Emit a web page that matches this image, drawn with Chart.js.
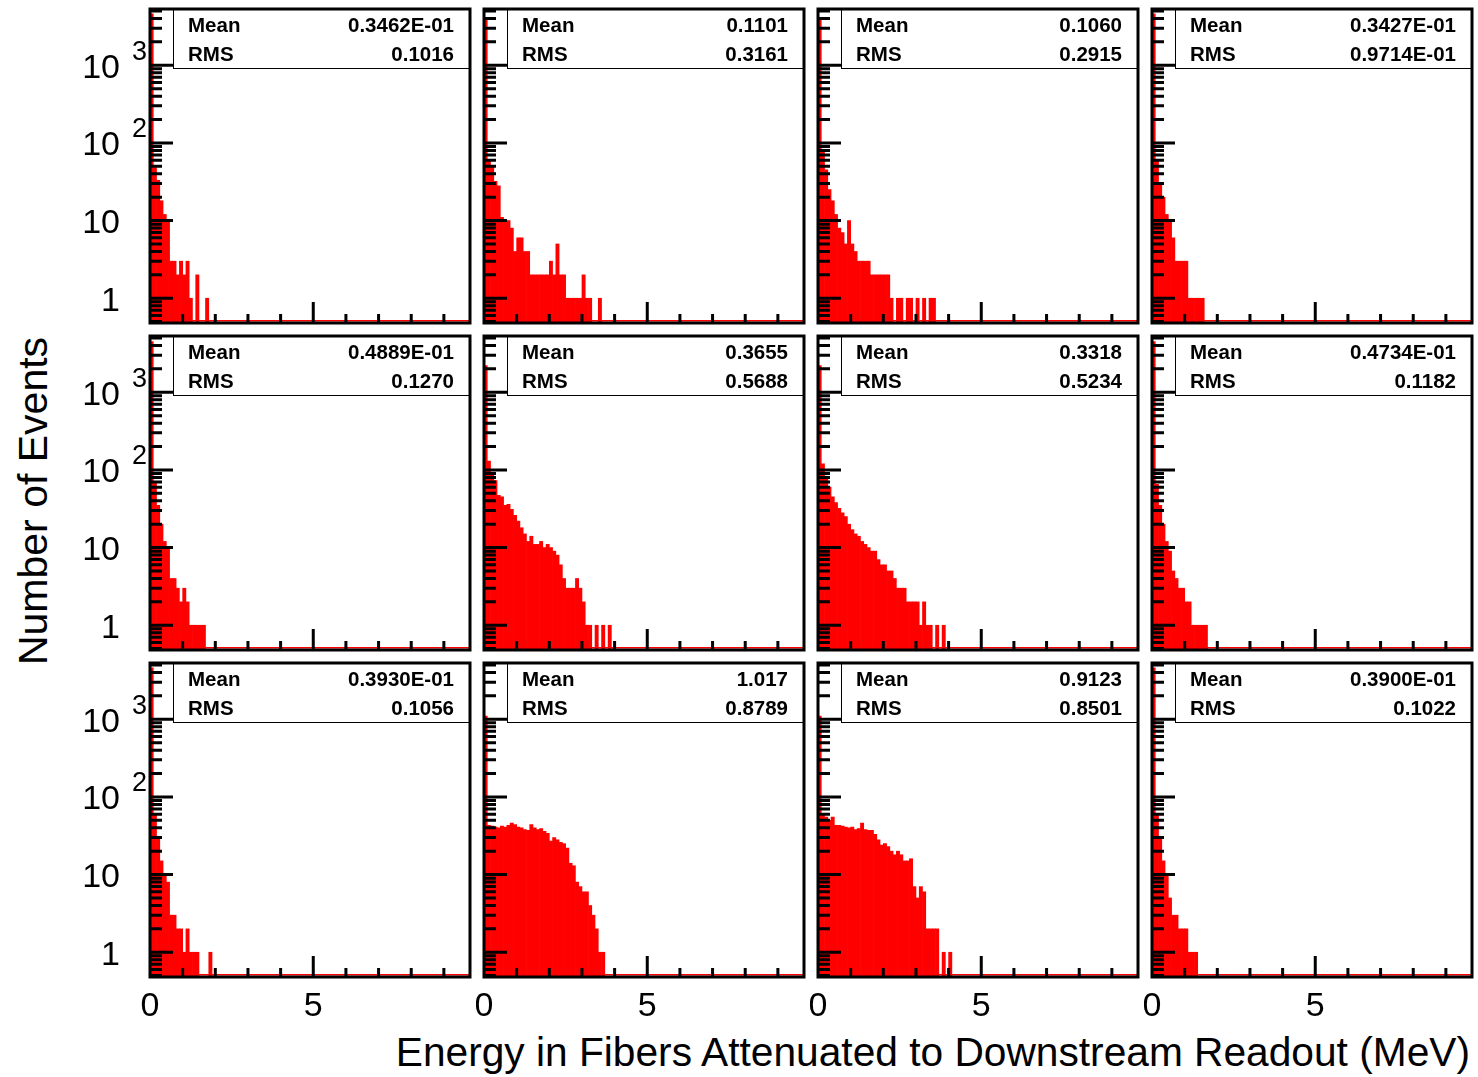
<!DOCTYPE html>
<html>
<head>
<meta charset="utf-8">
<title>Energy in fibers</title>
<script src="https://cdn.jsdelivr.net/npm/chart.js@4.4.0/dist/chart.umd.min.js"></script>
<style>
  html, body { margin: 0; padding: 0; background: #fff; }
  body { width: 1478px; height: 1077px; position: relative; overflow: hidden;
         font-family: "Liberation Sans", Arial, Helvetica, sans-serif; color: #000; }
  canvas { position: absolute; }
  .ytitle { position: absolute; left: 33px; top: 501px; font-size: 41px; line-height: 41px;
            white-space: nowrap; transform: translate(-50%, -50%) rotate(-90deg); }
  .xtitle { position: absolute; right: 8px; top: 1032px; font-size: 40.7px; line-height: 41px;
            white-space: nowrap; }
</style>
</head>
<body>
<div class="ytitle">Number of Events</div>
<div class="xtitle">Energy in Fibers Attenuated to Downstream Readout (MeV)</div>
<script>
/*global Chart*/

// bin contents, 0.1 MeV bins starting at 0 (bins past the end of a list are empty)
const fiber01 = [4600, 48, 33, 18, 12, 10, 3, 3, 2, 3, 2, 3, 1, 0, 2, 0, 0, 1];
const fiber02 = [4000, 60, 50, 32, 28, 11, 10, 10, 8, 4, 6, 6, 4, 4, 2, 2, 2, 2, 2, 2, 3, 2, 5, 2, 2, 1, 1, 1, 1, 1, 2, 1, 1, 0, 0, 1];
const fiber03 = [4000, 80, 45, 25, 18, 12, 8, 7, 5, 10, 5, 4, 3, 3, 3, 3, 2, 2, 2, 2, 2, 2, 1, 0, 1, 1, 0, 1, 1, 0, 1, 0, 1, 0, 1, 1];
const fiber04 = [4600, 60, 30, 20, 12, 10, 6, 3, 3, 3, 3, 1, 1, 1, 1, 1];
const fiber05 = [4500, 70, 35, 20, 12, 10, 4, 4, 3, 2, 3, 2, 1, 1, 1, 1, 1];
const fiber06 = [2200, 130, 85, 73, 47, 45, 35, 36, 31, 26, 22, 18, 15, 12, 14, 11, 11, 12, 10, 11, 10, 9, 8, 6, 4, 3, 3, 3, 4, 3, 2, 1, 1, 0, 1, 0, 1, 0, 1];
const fiber07 = [2200, 120, 80, 60, 45, 38, 32, 28, 25, 20, 17, 15, 14, 12, 11, 10, 9, 9, 7, 6, 6, 5, 5, 4, 3, 3, 3, 2, 2, 2, 2, 1, 2, 1, 1, 0, 1, 0, 1];
const fiber08 = [4500, 65, 35, 20, 12, 9, 5, 4, 3, 3, 2, 2, 1, 1, 1, 1, 1];
const fiber09 = [4600, 60, 30, 15, 10, 8, 3, 3, 2, 2, 1, 2, 1, 1, 1, 0, 0, 0, 1];
const fiber10 = [1100, 43, 42, 41, 40, 42, 41, 43, 46, 44, 41, 40, 38, 37, 44, 40, 38, 39, 36, 34, 27, 30, 28, 26, 25, 22, 14, 13, 8, 7, 6, 6, 4, 3, 2, 1, 1];
const fiber11 = [1100, 60, 55, 50, 55, 43, 43, 42, 41, 40, 41, 38, 39, 46, 38, 37, 37, 33, 28, 24, 25, 23, 20, 18, 20, 18, 15, 15, 16, 7, 5, 7, 6, 2, 2, 2, 2, 0, 1, 0, 1];
const fiber12 = [4600, 60, 30, 15, 10, 5, 3, 3, 2, 2, 2, 1, 1, 1];

const histograms = [fiber01, fiber02, fiber03, fiber04, fiber05, fiber06,
                    fiber07, fiber08, fiber09, fiber10, fiber11, fiber12];
const means = ['0.3462E-01', '0.1101', '0.1060', '0.3427E-01', '0.4889E-01', '0.3655',
               '0.3318', '0.4734E-01', '0.3930E-01', '1.017', '0.9123', '0.3900E-01'];
const rmsValues = ['0.1016', '0.3161', '0.2915', '0.9714E-01', '0.1270', '0.5688',
                   '0.5234', '0.1182', '0.1056', '0.8789', '0.8501', '0.1022'];
const yTickLabels = ['1', '10', '10', '10'];
const yTickExponents = ['', '', '2', '3'];
const xTickLabels = ['0', '5'];

const binWidth = 0.1;
const xMax = 9.8;
const yMin = 0.48;
const yMax = 5300;

// pad frame positions
const colLeft = [150, 484, 818, 1152];
const rowTop = [9, 336, 663];
const padW = 320;
const padH = 314;

const FONT = '"Liberation Sans", Arial, Helvetica, sans-serif';

const histFrame = {
    id: 'histFrame',
    afterDatasetsDraw(chart, args, opts) {
        const ctx = chart.ctx;
        const a = chart.chartArea;
        const xs = chart.scales.x;
        const ys = chart.scales.y;
        ctx.save();

        // histogram outline along zero
        ctx.strokeStyle = 'rgb(255,0,0)';
        ctx.lineWidth = 1.5;
        ctx.beginPath();
        ctx.moveTo(a.left, a.bottom - 2.2);
        ctx.lineTo(a.right, a.bottom - 2.2);
        ctx.stroke();

        // statistics box
        const bx = a.left + 23;
        ctx.fillStyle = '#fff';
        ctx.fillRect(bx, a.top, a.right - bx, 59);
        ctx.strokeStyle = '#000';
        ctx.lineWidth = 1;
        ctx.strokeRect(bx + 0.5, a.top + 0.5, a.right - bx, 59);
        ctx.fillStyle = '#000';
        ctx.font = 'bold 20.5px ' + FONT;
        ctx.textBaseline = 'middle';
        ctx.textAlign = 'left';
        ctx.fillText('Mean', a.left + 38, a.top + 17);
        ctx.fillText('RMS', a.left + 38, a.top + 46);
        ctx.textAlign = 'right';
        ctx.fillText(opts.mean, a.right - 16, a.top + 17);
        ctx.fillText(opts.rms, a.right - 16, a.top + 46);

        // ticks
        ctx.strokeStyle = '#000';
        ctx.lineWidth = 3;
        ctx.beginPath();
        for (let d = -1; d <= 3; d++) {
            for (let k = 1; k <= 9; k++) {
                const v = k * Math.pow(10, d);
                if (v <= ys.min || v >= ys.max) continue;
                const py = ys.getPixelForValue(v);
                ctx.moveTo(a.left, py);
                ctx.lineTo(a.left + (k === 1 ? 23 : 12), py);
            }
        }
        for (let e = 1; e < xMax; e++) {
            const px = xs.getPixelForValue(e);
            ctx.moveTo(px, a.bottom);
            ctx.lineTo(px, a.bottom - (e === 5 ? 21 : 9));
        }
        ctx.stroke();

        // frame
        ctx.lineWidth = 3;
        ctx.strokeRect(a.left, a.top, a.right - a.left, a.bottom - a.top);

        // axis labels on the outer pads
        ctx.fillStyle = '#000';
        if (opts.showY) {
            for (let d = 0; d < yTickLabels.length; d++) {
                const py = ys.getPixelForValue(Math.pow(10, d));
                ctx.font = '34px ' + FONT;
                ctx.textAlign = 'right';
                ctx.textBaseline = 'middle';
                ctx.fillText(yTickLabels[d], a.left - 30, py + 3);
                if (yTickExponents[d]) {
                    ctx.font = '27px ' + FONT;
                    ctx.textAlign = 'left';
                    ctx.fillText(yTickExponents[d], a.left - 18, py - 13);
                }
            }
        }
        if (opts.showX) {
            ctx.font = '34px ' + FONT;
            ctx.textAlign = 'center';
            ctx.textBaseline = 'middle';
            xTickLabels.forEach(t => {
                ctx.fillText(t, xs.getPixelForValue(Number(t)), a.bottom + 30);
            });
        }
        ctx.restore();
    }
};

histograms.forEach((bins, i) => {
    const r = Math.floor(i / 4);
    const c = i % 4;
    const padL = c === 0 ? colLeft[c] : 8;
    const padT = r === 0 ? rowTop[r] : 8;
    const padR = 8;
    const padB = r === 2 ? 60 : 8;

    const canvas = document.createElement('canvas');
    canvas.width = padW + padL + padR;
    canvas.height = padH + padT + padB;
    canvas.style.left = (colLeft[c] - padL) + 'px';
    canvas.style.top = (rowTop[r] - padT) + 'px';
    document.body.appendChild(canvas);

    const points = [];
    bins.forEach((v, k) => {
        if (v > 0) points.push({x: (k + 0.5) * binWidth, y: v});
    });

    new Chart(canvas, {
        type: 'bar',
        data: {
            datasets: [{
                data: points,
                backgroundColor: 'rgb(255,0,0)',
                borderWidth: 0,
                barPercentage: 1,
                categoryPercentage: 1
            }]
        },
        options: {
            responsive: false,
            animation: false,
            layout: { padding: { left: padL, right: padR, top: padT, bottom: padB } },
            plugins: {
                legend: { display: false },
                tooltip: { enabled: false },
                histFrame: { mean: means[i], rms: rmsValues[i], showY: c === 0, showX: r === 2 }
            },
            scales: {
                x: { type: 'linear', min: 0, max: xMax, display: false, offset: false },
                y: { type: 'logarithmic', min: yMin, max: yMax, display: false }
            }
        },
        plugins: [histFrame]
    });
});
</script>
</body>
</html>
